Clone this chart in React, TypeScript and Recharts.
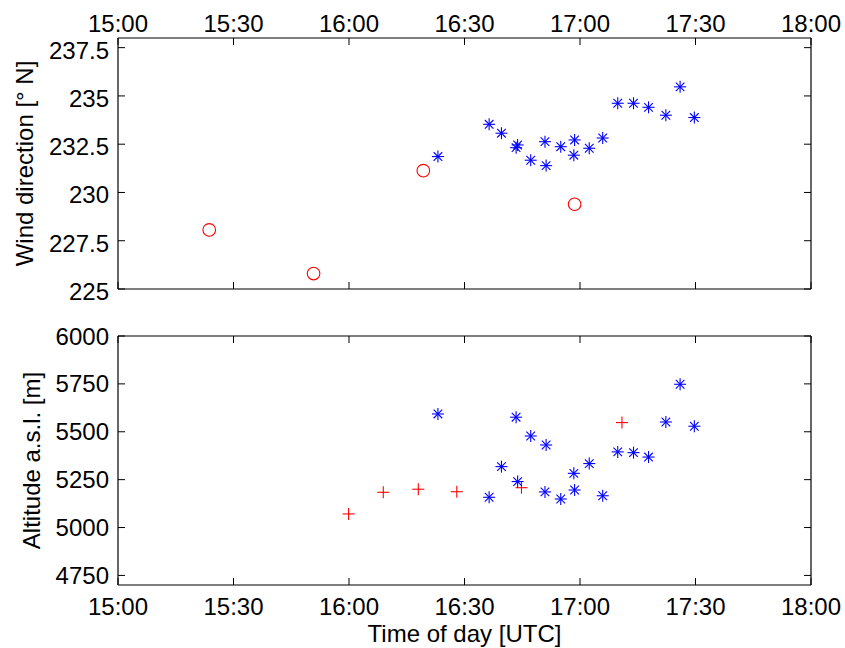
import React from "react";
import { ScatterChart, Scatter, XAxis, YAxis } from "recharts";

// time values are minutes after 15:00 UTC
const timeTicks = [0, 30, 60, 90, 120, 150, 180];
const dirTicks = [225, 227.5, 230, 232.5, 235, 237.5];
const altTicks = [4750, 5000, 5250, 5500, 5750, 6000];

const dirCircleTime = [23.7, 50.8, 79.3, 118.6];
const dirCircleValue = [228.06, 225.8, 231.13, 229.39];

const starTime = [
  83.1, 96.4, 99.6, 103.4, 103.8, 107.2, 110.9, 111.2, 115.0, 118.4, 118.6,
  122.4, 125.9, 129.8, 133.9, 137.8, 142.3, 146.0, 149.7,
];
const dirStarValue = [
  231.86, 233.53, 233.07, 232.32, 232.46, 231.67, 232.63, 231.39, 232.37,
  231.93, 232.72, 232.29, 232.82, 234.62, 234.62, 234.41, 234.0, 235.47, 233.88,
];
const altStarValue = [
  5593, 5158, 5318, 5576, 5240, 5478, 5186, 5431, 5149, 5283, 5196, 5334, 5166,
  5395, 5391, 5368, 5551, 5748, 5529,
];

const altPlusTime = [59.9, 68.9, 78.0, 88.0, 104.8, 130.9];
const altPlusValue = [5071, 5184, 5200, 5187, 5208, 5548];

const toPoints = (t: number[], v: number[]) => t.map((x, i) => ({ t: x, v: v[i] }));

const FONT = "'Liberation Sans', Arial, Helvetica, sans-serif";
const RED = "#ff0000";
const BLUE = "#0000ff";
const TS = 7; // recharts tickSize (lines hidden, drawn by hand inward)
const TM = 2; // recharts tickMargin
const IN = 7; // inward tick length

const fmtTime = (m: number) => {
  const h = 15 + Math.floor(m / 60);
  const mm = Math.round(m % 60);
  return `${h}:${String(mm).padStart(2, "0")}`;
};

const Circle = (p: any) => (
  <circle cx={p.cx} cy={p.cy} r={6.3} fill="none" stroke={RED} strokeWidth={1.1} />
);

const Plus = (p: any) => {
  const { cx, cy } = p;
  return (
    <g stroke={RED} strokeWidth={1.1}>
      <line x1={cx - 6} y1={cy} x2={cx + 6} y2={cy} />
      <line x1={cx} y1={cy - 6} x2={cx} y2={cy + 6} />
    </g>
  );
};

const Star = (p: any) => {
  const { cx, cy } = p;
  const r = 6;
  const d = 4.3;
  return (
    <g stroke={BLUE} strokeWidth={1.1}>
      <line x1={cx - r} y1={cy} x2={cx + r} y2={cy} />
      <line x1={cx} y1={cy - r} x2={cx} y2={cy + r} />
      <line x1={cx - d} y1={cy - d} x2={cx + d} y2={cy + d} />
      <line x1={cx - d} y1={cy + d} x2={cx + d} y2={cy - d} />
    </g>
  );
};

const Ghost = () => <g />;

const txt = { fontSize: 24, fontFamily: FONT, fill: "#000" };

// axis on top of the plot, label above, tick pointing down
const TopTick = (withLabel: boolean) => (p: any) => {
  const edge = p.y + TS + TM;
  return (
    <g>
      <line x1={p.x} x2={p.x} y1={edge} y2={edge + IN} stroke="#000" strokeWidth={1} />
      {withLabel && (
        <text x={p.x} y={edge - 6} textAnchor="middle" {...txt}>
          {fmtTime(p.payload.value)}
        </text>
      )}
    </g>
  );
};

// axis under the plot, label below, tick pointing up
const BottomTick = (withLabel: boolean) => (p: any) => {
  const edge = p.y - TS - TM;
  return (
    <g>
      <line x1={p.x} x2={p.x} y1={edge} y2={edge - IN} stroke="#000" strokeWidth={1} />
      {withLabel && (
        <text x={p.x} y={edge + 30} textAnchor="middle" {...txt}>
          {fmtTime(p.payload.value)}
        </text>
      )}
    </g>
  );
};

const LeftTick = (shift: number) => (p: any) => {
  const edge = p.x + TS + TM;
  return (
    <g>
      <line x1={edge} x2={edge + IN} y1={p.y} y2={p.y} stroke="#000" strokeWidth={1} />
      <text x={edge - 9} y={p.y + shift} textAnchor="end" {...txt}>
        {String(p.payload.value)}
      </text>
    </g>
  );
};

const RightTick = (p: any) => {
  const edge = p.x - TS - TM;
  return <line x1={edge} x2={edge - IN} y1={p.y} y2={p.y} stroke="#000" strokeWidth={1} />;
};

const yTitle = (text: string, x: number) => (p: any) => {
  const vb = p.viewBox || {};
  const cy = (vb.y ?? 0) + (vb.height ?? 0) / 2;
  return (
    <text transform={`translate(${x},${cy}) rotate(-90)`} textAnchor="middle" {...txt}>
      {text}
    </text>
  );
};

const xTitle = (text: string) => (p: any) => {
  const vb = p.viewBox || {};
  return (
    <text x={(vb.x ?? 0) + (vb.width ?? 0) / 2} y={(vb.y ?? 0) + 57} textAnchor="middle" {...txt}>
      {text}
    </text>
  );
};

const axisLine = { stroke: "#000", strokeWidth: 1.2 };

const common = {
  type: "number" as const,
  interval: 0 as const,
  allowDataOverflow: true,
  tickSize: TS,
  tickMargin: TM,
  tickLine: false,
  axisLine,
};

export default function App() {
  return (
    <div
      style={{
        position: "absolute",
        left: 0,
        top: 0,
        width: 845,
        height: 648,
        background: "#fff",
      }}
    >
      <ScatterChart width={845} height={310} margin={{ top: 0, right: 33, bottom: 20, left: 18 }}>
        <XAxis
          {...common}
          xAxisId="top"
          orientation="top"
          dataKey="t"
          domain={[0, 180]}
          ticks={timeTicks}
          height={38}
          tick={TopTick(true)}
        />
        <XAxis
          {...common}
          xAxisId="bot"
          orientation="bottom"
          dataKey="t"
          domain={[0, 180]}
          ticks={timeTicks}
          height={1}
          tick={BottomTick(false)}
        />
        <YAxis
          {...common}
          yAxisId="left"
          dataKey="v"
          domain={[225, 238]}
          ticks={dirTicks}
          width={100}
          tick={LeftTick(11)}
          label={yTitle("Wind direction [° N]", 33)}
        />
        <YAxis
          {...common}
          yAxisId="right"
          orientation="right"
          dataKey="v"
          domain={[225, 238]}
          ticks={dirTicks}
          width={1}
          tick={RightTick}
        />
        <Scatter
          data={toPoints(dirCircleTime, dirCircleValue)}
          xAxisId="top"
          yAxisId="left"
          shape={Circle}
          isAnimationActive={false}
        />
        <Scatter
          data={toPoints(starTime, dirStarValue)}
          xAxisId="top"
          yAxisId="left"
          shape={Star}
          isAnimationActive={false}
        />
        <Scatter
          data={toPoints(starTime, dirStarValue)}
          xAxisId="bot"
          yAxisId="right"
          shape={Ghost}
          isAnimationActive={false}
        />
      </ScatterChart>

      <ScatterChart width={845} height={338} margin={{ top: 25, right: 33, bottom: 0, left: 18 }}>
        <XAxis
          {...common}
          xAxisId="top"
          orientation="top"
          dataKey="t"
          domain={[0, 180]}
          ticks={timeTicks}
          height={1}
          tick={TopTick(false)}
        />
        <XAxis
          {...common}
          xAxisId="bot"
          orientation="bottom"
          dataKey="t"
          domain={[0, 180]}
          ticks={timeTicks}
          height={63}
          tick={BottomTick(true)}
          label={xTitle("Time of day [UTC]")}
        />
        <YAxis
          {...common}
          yAxisId="left"
          dataKey="v"
          domain={[4700, 6000]}
          ticks={altTicks}
          width={100}
          tick={LeftTick(8.5)}
          label={yTitle("Altitude a.s.l. [m]", 40)}
        />
        <YAxis
          {...common}
          yAxisId="right"
          orientation="right"
          dataKey="v"
          domain={[4700, 6000]}
          ticks={altTicks}
          width={1}
          tick={RightTick}
        />
        <Scatter
          data={toPoints(altPlusTime, altPlusValue)}
          xAxisId="bot"
          yAxisId="left"
          shape={Plus}
          isAnimationActive={false}
        />
        <Scatter
          data={toPoints(starTime, altStarValue)}
          xAxisId="bot"
          yAxisId="left"
          shape={Star}
          isAnimationActive={false}
        />
        <Scatter
          data={toPoints(starTime, altStarValue)}
          xAxisId="top"
          yAxisId="right"
          shape={Ghost}
          isAnimationActive={false}
        />
      </ScatterChart>
    </div>
  );
}
